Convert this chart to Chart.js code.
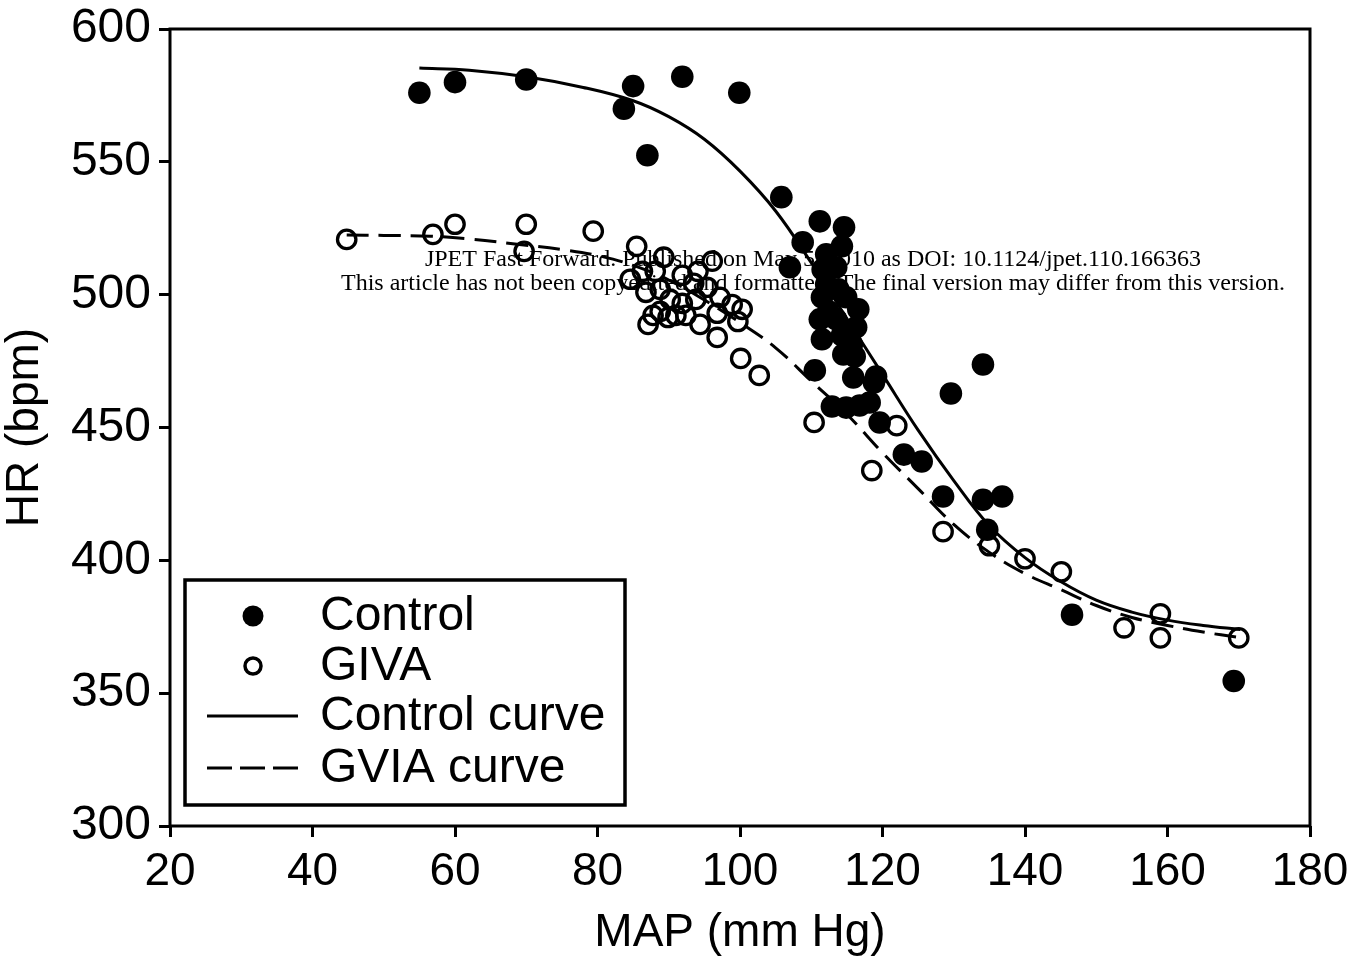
<!DOCTYPE html>
<html>
<head>
<meta charset="utf-8">
<script src="https://cdn.jsdelivr.net/npm/chart.js@4.4.1/dist/chart.umd.min.js"></script>
<style>
  body { margin: 0; background: #fff; }
  #wrap { width: 1347px; height: 961px; }
</style>
</head>
<body>
<div id="wrap"><canvas id="hr_chart" width="1347" height="961"></canvas></div>
<script>
// Values (MAP in mm Hg, HR in bpm).
const controlMap = [55, 60, 70, 83.7, 85, 87, 91.9, 99.9, 105.8, 107,
  108.8, 111.2, 114.6, 114.3, 112.1, 111.6, 113.5, 112.1, 111.5, 113.8,
  114.9, 116.6, 112.4, 111.2, 113.5, 116.3, 111.5, 114.3, 115.7, 114.5,
  116.1, 110.5, 115.9, 119.1, 118.8, 112.9, 114.9, 116.8, 118.2, 119.6,
  123, 125.5, 128.5, 129.6, 134.1, 134.1, 136.8, 134.7, 146.6, 169.3];
const controlHr = [576, 580, 581, 570, 578.5, 552.5, 582, 576, 536.7, 510.3,
  519.7, 527.6, 525.4, 518.2, 515.2, 509.5, 510.3, 503.9, 499, 502,
  499, 494.5, 493.7, 490.7, 490.7, 487.7, 483.2, 484.7, 481.3, 477.5,
  476.7, 471.5, 468.8, 469.2, 466.9, 457.9, 457.5, 458.3, 459.4, 451.9,
  439.8, 437.2, 424, 462.8, 473.7, 422.8, 424, 411.5, 379.5, 354.6];

const givaMap = [44.8, 56.9, 60, 70, 69.7, 79.4, 85.5, 84.6, 86.3, 88.1,
  89.3, 86.8, 88.8, 87.1, 87.8, 88.8, 89.9, 91, 92.4, 94.4,
  90.2, 91.9, 93.8, 91.9, 94.1, 93.5, 95.4, 97.2, 96.8, 98.9,
  99.7, 100.3, 96.1, 96.8, 100.1, 102.7, 110.4, 122, 118.5, 128.5,
  135, 140, 145.1, 153.9, 159, 159, 170];
const givaHr = [520.8, 522.7, 526.5, 526.5, 516.3, 523.9, 518.2, 505.8, 508.8, 508.8,
  514.1, 500.9, 502, 488.8, 492.2, 493.7, 491.4, 492.2, 492.2, 488.8,
  498.2, 496.7, 498.2, 507.3, 508.8, 504.3, 502.8, 499, 493, 496.3,
  489.9, 494.5, 512.6, 483.9, 476, 469.6, 451.9, 450.7, 433.8, 410.8,
  405.5, 400.6, 395.7, 374.6, 379.9, 370.8, 370.8];

// Fitted curves.
const controlCurveMap = [55, 62, 70, 78, 85, 90, 95, 100, 105, 110, 115,
  120, 125, 130, 135, 140, 145, 150, 155, 160, 165, 170.2];
const controlCurveHr = [585.3, 584.5, 582, 578, 573, 567, 558.5, 546.5, 531.5, 512, 491,
  470, 449, 430, 413, 401, 392, 385, 380.5, 377.5, 375.5, 374];

const gviaCurveMap = [44.8, 50, 56.5, 62, 68.7, 75, 80.4, 85, 90, 95, 100, 105,
  110, 115, 120, 125, 130, 135, 140, 145, 150, 155, 160, 165, 170];
const gviaCurveHr = [522.5, 522.3, 522, 521, 519, 517, 514.5, 511, 505.5, 498, 489.5, 480,
  467.5, 455, 440.5, 427, 413.5, 403, 395, 389, 383, 378.5, 375.5, 373, 371];

const xTicks = [20, 40, 60, 80, 100, 120, 140, 160, 180];
const yTicks = [300, 350, 400, 450, 500, 550, 600];
const legendLabels = ["Control", "GIVA", "Control curve", "GVIA curve"];
const watermark = [
  "JPET Fast Forward. Published on May 5, 2010 as DOI: 10.1124/jpet.110.166363",
  "This article has not been copyedited and formatted. The final version may differ from this version.",
];

const FONT = "'Liberation Sans', Arial, Helvetica, sans-serif";

function pairs(xs, ys) {
  return xs.map((x, i) => ({ x: x, y: ys[i] }));
}

// Black frame round the plot area.
const framePlugin = {
  id: "frame",
  afterDatasetsDraw(chart) {
    const a = chart.chartArea;
    const ctx = chart.ctx;
    ctx.save();
    ctx.lineWidth = 3;
    ctx.strokeStyle = "#000";
    ctx.strokeRect(a.left, a.top, a.right - a.left, a.bottom - a.top);
    ctx.restore();
  },
};

// Journal stamp that sits behind the points.
const stampPlugin = {
  id: "stamp",
  beforeDatasetsDraw(chart) {
    const ctx = chart.ctx;
    ctx.save();
    ctx.fillStyle = "#000";
    ctx.textAlign = "center";
    ctx.textBaseline = "alphabetic";
    ctx.font = "24px 'Liberation Serif', 'Times New Roman', serif";
    ctx.fillText(watermark[0], 813, 266);
    ctx.fillText(watermark[1], 813, 290);
    ctx.restore();
  },
};

// Boxed legend in the lower left of the plot.
const legendPlugin = {
  id: "boxLegend",
  afterDraw(chart) {
    const ctx = chart.ctx;
    ctx.save();
    ctx.fillStyle = "#fff";
    ctx.fillRect(185, 580, 440, 225);
    ctx.lineWidth = 3.5;
    ctx.strokeStyle = "#000";
    ctx.strokeRect(185, 580, 440, 225);

    const rows = [616, 666, 716, 768];
    ctx.fillStyle = "#000";
    ctx.beginPath();
    ctx.arc(253, rows[0], 10.5, 0, Math.PI * 2);
    ctx.fill();

    ctx.lineWidth = 3.5;
    ctx.beginPath();
    ctx.arc(253, rows[1], 8, 0, Math.PI * 2);
    ctx.stroke();

    ctx.lineWidth = 3;
    ctx.beginPath();
    ctx.moveTo(207, rows[2]);
    ctx.lineTo(298, rows[2]);
    ctx.stroke();

    ctx.setLineDash([25, 8]);
    ctx.beginPath();
    ctx.moveTo(207, rows[3]);
    ctx.lineTo(298, rows[3]);
    ctx.stroke();
    ctx.setLineDash([]);

    ctx.font = "48px " + FONT;
    ctx.textAlign = "left";
    ctx.textBaseline = "middle";
    legendLabels.forEach((label, i) => {
      ctx.fillText(label, 320, rows[i] + 1);
    });
    ctx.restore();
  },
};

const tickFont = { family: FONT, size: 46 };

new Chart(document.getElementById("hr_chart"), {
  type: "scatter",
  data: {
    datasets: [
      {
        label: legendLabels[0],
        data: pairs(controlMap, controlHr),
        pointStyle: "circle",
        pointRadius: 11.3,
        pointBackgroundColor: "#000",
        pointBorderWidth: 0,
        order: 0,
      },
      {
        label: legendLabels[1],
        data: pairs(givaMap, givaHr),
        pointStyle: "circle",
        pointRadius: 9.2,
        pointBackgroundColor: "rgba(0,0,0,0)",
        pointBorderColor: "#000",
        pointBorderWidth: 3.3,
        order: 1,
      },
      {
        label: legendLabels[2],
        type: "line",
        data: pairs(controlCurveMap, controlCurveHr),
        borderColor: "#000",
        borderWidth: 3,
        pointRadius: 0,
        tension: 0.4,
        fill: false,
        order: 2,
      },
      {
        label: legendLabels[3],
        type: "line",
        data: pairs(gviaCurveMap, gviaCurveHr),
        borderColor: "#000",
        borderWidth: 3,
        borderDash: [22, 10],
        pointRadius: 0,
        tension: 0.4,
        fill: false,
        order: 3,
      },
    ],
  },
  options: {
    responsive: false,
    animation: false,
    layout: { padding: { top: 29, right: 37, left: 0, bottom: 0 } },
    plugins: {
      legend: { display: false },
      tooltip: { enabled: false },
    },
    scales: {
      x: {
        type: "linear",
        min: 20,
        max: 180,
        afterBuildTicks: (s) => { s.ticks = xTicks.map((v) => ({ value: v })); },
        // fixed band height; no extra room for the end labels
        afterFit: (s) => { s.height = 135; s.paddingLeft = 0; s.paddingRight = 0; },
        ticks: { color: "#000", font: tickFont, padding: 8, maxRotation: 0 },
        grid: { drawOnChartArea: false, drawTicks: true, tickLength: 11, lineWidth: 3, color: "#000" },
        border: { display: false },
        title: {
          display: true,
          text: "MAP (mm Hg)",
          color: "#000",
          font: { family: FONT, size: 46, lineHeight: 1.2 },
          padding: 0,
        },
      },
      y: {
        type: "linear",
        min: 300,
        max: 600,
        afterBuildTicks: (s) => { s.ticks = yTicks.map((v) => ({ value: v })); },
        afterFit: (s) => { s.width = 170; s.paddingTop = 0; s.paddingBottom = 0; },
        ticks: { color: "#000", font: { family: FONT, size: 48 }, padding: 8 },
        grid: { drawOnChartArea: false, drawTicks: true, tickLength: 11, lineWidth: 3, color: "#000" },
        border: { display: false },
        title: {
          display: true,
          text: "HR (bpm)",
          color: "#000",
          font: { family: FONT, size: 46, lineHeight: 1.1 },
          padding: 0,
        },
      },
    },
  },
  plugins: [stampPlugin, framePlugin, legendPlugin],
});
</script>
</body>
</html>
